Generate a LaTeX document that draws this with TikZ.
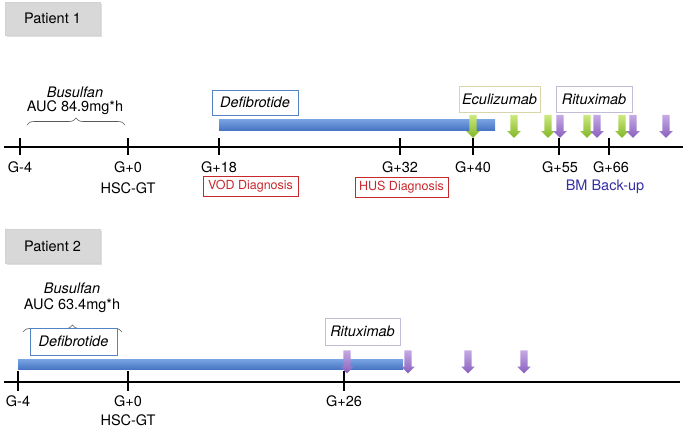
\documentclass[tikz,border=0pt]{standalone}
\usepackage{fontspec}
\setmainfont{TeX Gyre Heros}
\usetikzlibrary{shapes.arrows, shadows, decorations.pathreplacing, positioning, calc}
\usepackage{xcolor}
\definecolor{patgray}{RGB}{216,216,216}
\definecolor{defiblue}{RGB}{84,130,196}
\definecolor{barblue}{RGB}{98,148,222}
\definecolor{bardark}{RGB}{72,118,196}
\definecolor{diagred}{RGB}{200,40,45}
\definecolor{eculborder}{RGB}{214,214,170}
\definecolor{rituborder}{RGB}{196,188,214}
\definecolor{greenlight}{RGB}{206,234,128}
\definecolor{greendark}{RGB}{128,182,38}
\definecolor{purplelight}{RGB}{198,170,228}
\definecolor{purpledark}{RGB}{136,96,190}
\definecolor{bmblue}{RGB}{52,48,164}
\tikzstyle{patient} = [rectangle, minimum width=95pt, minimum height=33pt, inner sep=0pt,
    draw=gray!35, fill=patgray, font=\fontsize{14.5}{16}\selectfont,
    drop shadow={shadow xshift=1.5pt, shadow yshift=-1.8pt, fill=gray!50}]
\tikzstyle{drug} = [rectangle, minimum height=26pt, inner sep=0pt, line width=0.6pt,
    font=\fontsize{14.5}{16}\selectfont\itshape, fill=white]
\tikzstyle{diagnosis} = [rectangle, minimum height=20pt, inner sep=0pt, line width=0.7pt,
    draw=diagred, text=diagred, font=\fontsize{12.5}{14}\selectfont]
\tikzstyle{daylabel} = [font=\fontsize{14.5}{16}\selectfont, inner sep=0pt]
\tikzstyle{bar} = [rectangle, inner sep=0pt, top color=barblue!85, bottom color=bardark]
\tikzstyle{greenarrow} = [single arrow, shape border rotate=270, draw=none, inner sep=3.4pt,
    single arrow head extend=3.2pt, minimum height=23pt, top color=greenlight, bottom color=greendark]
\tikzstyle{purplearrow} = [single arrow, shape border rotate=270, draw=none, inner sep=3.4pt,
    single arrow head extend=3.2pt, minimum height=23pt, top color=purplelight, bottom color=purpledark]
\tikzstyle{axis} = [line width=1.4pt, black]
\tikzstyle{tick} = [line width=1.2pt, black]
\tikzstyle{curly} = [gray!70!black, line width=0.6pt, decorate, decoration={brace, amplitude=7pt}]

\begin{document}
\begin{tikzpicture}[x=1pt, y=-1pt]
\useasboundingbox (0,0) rectangle (685,429);

% Patient 1
\node (p1) [patient] at (52.5,18.5) {Patient 1};
\coordinate (a1s) at (4,147);
\coordinate (a1e) at (683,147);
\draw[axis] (a1s) -- (a1e);
\foreach \x in {20,128,219,400,473,559,609}
  \draw[tick] (\x,138) -- (\x,155);
\node (g1m4) [daylabel] at (20,167) {G-4};
\node (g1p0) [daylabel] at (128,167) {G+0};
\node (hsc1) [daylabel] at (128,188) {HSC-GT};
\node (g1p18) [daylabel] at (219,167) {G+18};
\node (g1p32) [daylabel] at (400,167) {G+32};
\node (g1p40) [daylabel] at (473,167) {G+40};
\node (g1p55) [daylabel] at (560,167) {G+55};
\node (g1p66) [daylabel] at (611,167) {G+66};
\node (bm) [daylabel, text=bmblue] at (605,187) {BM Back-up};
\node (vod) [diagnosis, minimum width=95pt] at (250.5,186.5) {VOD Diagnosis};
\node (hus) [diagnosis, minimum width=93pt] at (401.5,187.5) {HUS Diagnosis};

\coordinate (b1s) at (27,125);
\coordinate (b1e) at (125,125);
\draw[curly] (b1s) -- (b1e);
\node (bus1) [daylabel, font=\fontsize{14.5}{16}\selectfont\itshape] at (75,92) {Busulfan};
\node (auc1) [daylabel] at (75,108) {AUC 84.9mg*h};

\node (defib1) [drug, draw=defiblue, minimum width=86pt, minimum height=25pt] at (255,102.5) {Defibrotide};
\node (bar1) [bar, minimum width=276pt, minimum height=11pt] at (357,124.5) {};
\node (ecu) [drug, draw=eculborder, minimum width=81pt] at (499.5,99) {Eculizumab};
\node (ritu1) [drug, draw=rituborder, minimum width=76pt] at (594,99) {Rituximab};
\foreach \x in {473,514,548,587,622}
  \node [greenarrow] at (\x,124.5) {};
\foreach \x in {560,597,633,666}
  \node [purplearrow] at (\x,124.5) {};

% Patient 2
\node (p2) [patient, minimum height=34pt] at (52.5,246) {Patient 2};
\coordinate (a2s) at (4,382);
\coordinate (a2e) at (680,382);
\draw[axis] (a2s) -- (a2e);
\foreach \x in {18,128,344}
  \draw[tick] (\x,371) -- (\x,391);
\node (g2m4) [daylabel] at (18,401) {G-4};
\node (g2p0) [daylabel] at (128,401) {G+0};
\node (hsc2) [daylabel] at (128,420) {HSC-GT};
\node (g2p26) [daylabel] at (344,401) {G+26};

\coordinate (b2s) at (23,332);
\coordinate (b2e) at (122,332);
\draw[curly] (b2s) -- (b2e);
\node (bus2) [daylabel, font=\fontsize{14.5}{16}\selectfont\itshape] at (72,288) {Busulfan};
\node (auc2) [daylabel] at (72,306) {AUC 63.4mg*h};

\node (defib2) [drug, draw=defiblue, minimum width=87pt, minimum height=27pt] at (73.5,341.5) {Defibrotide};
\node (bar2) [bar, minimum width=385pt, minimum height=10pt] at (210.5,364) {};
\node (ritu2) [drug, draw=rituborder, minimum width=75pt, minimum height=27pt] at (362.5,331.5) {Rituximab};
\foreach \x in {347,408,468,524}
  \node [purplearrow] at (\x,360) {};
\end{tikzpicture}
\end{document}
